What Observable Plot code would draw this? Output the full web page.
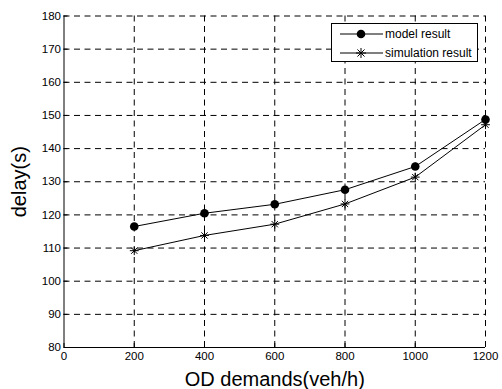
<!DOCTYPE html>
<html>
<head>
<meta charset="utf-8">
<script src="https://cdn.jsdelivr.net/npm/d3@7"></script>
<script src="https://cdn.jsdelivr.net/npm/@observablehq/plot@0.6"></script>
<style>
  html, body { margin: 0; padding: 0; background: #fff; }
  #wrap { position: relative; width: 502px; height: 389px; font-family: "Liberation Sans", Arial, sans-serif; }
  #legend { position: absolute; left: 331px; top: 23px; width: 147px; height: 39px; border: 1px solid #000; background: #fff; box-sizing: border-box; font-size: 12px; }
  #legend .row { position: absolute; left: 0; height: 16px; display: flex; align-items: center; }
  #legend svg { display: block; }
  #legend span { margin-left: 1px; line-height: 16px; white-space: nowrap; }
</style>
</head>
<body>
<div id="wrap"></div>
<script>
const demands = [200, 400, 600, 800, 1000, 1200];
const modelResult = [116.5, 120.5, 123.2, 127.6, 134.6, 148.8];
const simulationResult = [109.2, 113.8, 117.2, 123.3, 131.4, 147.2];
const xTicks = [0, 200, 400, 600, 800, 1000, 1200];
const yTicks = [80, 90, 100, 110, 120, 130, 140, 150, 160, 170, 180];
const seriesNames = ["model result", "simulation result"];

const asterisk = {
  draw(ctx, size) {
    const r = Math.sqrt(size) * 0.5;
    const d = r * Math.SQRT1_2;
    ctx.moveTo(0, -r); ctx.lineTo(0, r);
    ctx.moveTo(-r, 0); ctx.lineTo(r, 0);
    ctx.moveTo(-d, -d); ctx.lineTo(d, d);
    ctx.moveTo(-d, d); ctx.lineTo(d, -d);
  }
};

const model = demands.map((x, i) => ({x, y: modelResult[i]}));
const sim = demands.map((x, i) => ({x, y: simulationResult[i]}));

const chart = Plot.plot({
  width: 502,
  height: 389,
  marginLeft: 63.5,
  marginRight: 17,
  marginTop: 15.5,
  marginBottom: 42,
  style: {fontFamily: "Liberation Sans, Arial, sans-serif", fontSize: "11.5px", color: "#000", background: "#fff", overflow: "visible"},
  x: {domain: [0, 1200], ticks: xTicks},
  y: {domain: [80, 180], ticks: yTicks},
  marks: [
    Plot.ruleX(xTicks.slice(1), {stroke: "#000", strokeWidth: 1, strokeDasharray: "6,4.5"}),
    Plot.ruleY(yTicks.slice(1), {stroke: "#000", strokeWidth: 1, strokeDasharray: "6,4.5"}),
    Plot.ruleX([0], {stroke: "#000", strokeWidth: 1}),
    Plot.ruleY([80], {stroke: "#000", strokeWidth: 1}),
    Plot.axisX({ticks: xTicks, tickSize: -4, tickPadding: 8, tickFormat: d => String(d), label: null, fontSize: 11.5}),
    Plot.axisY({ticks: yTicks, tickSize: -4, tickPadding: 7, tickFormat: d => String(d), label: null, fontSize: 11.5}),
    Plot.line(model, {x: "x", y: "y", stroke: "#000", strokeWidth: 1}),
    Plot.line(sim, {x: "x", y: "y", stroke: "#000", strokeWidth: 1}),
    Plot.dot(model, {x: "x", y: "y", r: 4.3, fill: "#000", stroke: "none"}),
    Plot.dot(sim, {x: "x", y: "y", symbol: asterisk, r: 5, stroke: "#000", strokeWidth: 1, fill: "none"}),
    Plot.text(["OD demands(veh/h)"], {frameAnchor: "bottom", dy: 38, fontSize: 20, fontWeight: "normal", text: d => d, lineAnchor: "bottom"}),
    Plot.text(["delay(s)"], {frameAnchor: "left", textAnchor: "middle", dx: -44, rotate: -90, fontSize: 20, fontWeight: "normal", text: d => d})
  ]
});

const wrap = document.getElementById("wrap");
wrap.appendChild(chart);

const legend = document.createElement("div");
legend.id = "legend";
const rows = [
  {name: seriesNames[0], top: 2, kind: "dot"},
  {name: seriesNames[1], top: 21, kind: "star"}
];
for (const r of rows) {
  const row = document.createElement("div");
  row.className = "row";
  row.style.top = r.top + "px";
  const ns = "http://www.w3.org/2000/svg";
  const s = document.createElementNS(ns, "svg");
  s.setAttribute("width", "52");
  s.setAttribute("height", "16");
  const ln = document.createElementNS(ns, "line");
  ln.setAttribute("x1", "8"); ln.setAttribute("x2", "51");
  ln.setAttribute("y1", "8"); ln.setAttribute("y2", "8");
  ln.setAttribute("stroke", "#000");
  s.appendChild(ln);
  if (r.kind === "dot") {
    const c = document.createElementNS(ns, "circle");
    c.setAttribute("cx", "29"); c.setAttribute("cy", "8"); c.setAttribute("r", "4.3");
    c.setAttribute("fill", "#000");
    s.appendChild(c);
  } else {
    const p = document.createElementNS(ns, "path");
    const path = d3.path();
    const g = {moveTo: (x, y) => path.moveTo(29 + x, 8 + y), lineTo: (x, y) => path.lineTo(29 + x, 8 + y)};
    asterisk.draw(g, 100);
    p.setAttribute("d", path.toString());
    p.setAttribute("stroke", "#000");
    p.setAttribute("fill", "none");
    s.appendChild(p);
  }
  row.appendChild(s);
  const t = document.createElement("span");
  t.textContent = r.name;
  row.appendChild(t);
  legend.appendChild(row);
}
wrap.appendChild(legend);
</script>
</body>
</html>
